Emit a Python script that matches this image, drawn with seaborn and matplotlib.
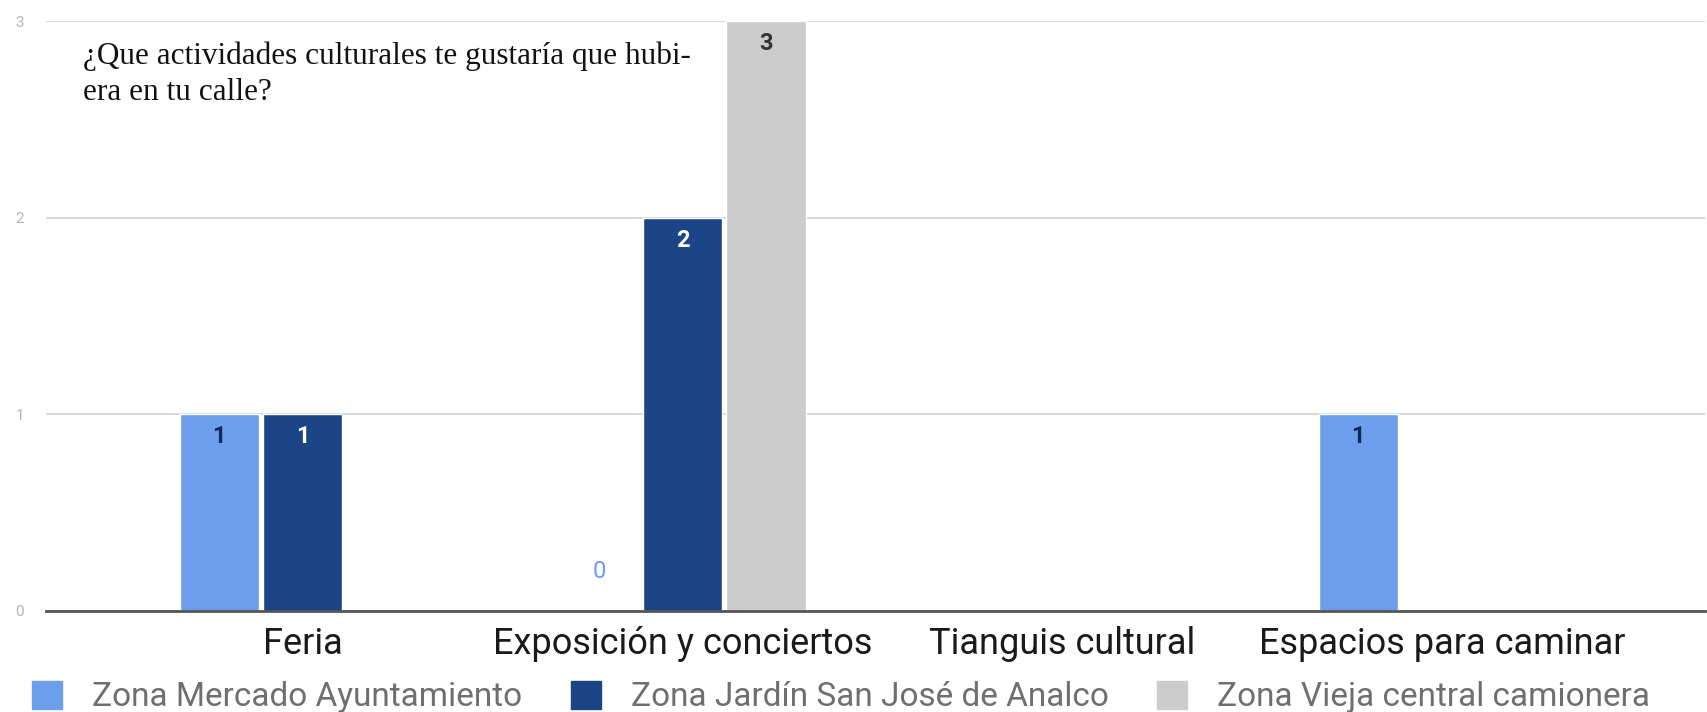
import matplotlib
matplotlib.use("Agg")
import matplotlib.pyplot as plt
import numpy as np
import pandas as pd
import seaborn as sns

# data (NaN = no bar drawn, 0 = bar with a "0" label)
categories = ["Feria", "Exposición y conciertos", "Tianguis cultural", "Espacios para caminar"]
zones = ["Zona Mercado Ayuntamiento", "Zona Jardín San José de Analco", "Zona Vieja central camionera"]
mercado = [1, 0, np.nan, 1]
jardin = [1, 2, np.nan, np.nan]
vieja = [np.nan, 3, np.nan, np.nan]
yticks = [0, 1, 2, 3]
title = "¿Que actividades culturales te gustaría que hubi-\nera en tu calle?"

colors = ["#6d9eeb", "#1c4587", "#cccccc"]
label_colors = ["#0b2a5c", "#ffffff", "#333333"]

df = pd.DataFrame({
    "categoria": categories * 3,
    "zona": [z for z in zones for _ in categories],
    "valor": mercado + jardin + vieja,
})

sns.set_theme(style="white")
plt.rcParams["font.family"] = ["Roboto", "DejaVu Sans"]

fig = plt.figure(figsize=(17.08, 7.12), dpi=100)
ax = fig.add_axes([0.027, 0.142, 0.971, 0.8285])

sns.barplot(data=df, x="categoria", y="valor", hue="zona", order=categories,
            hue_order=zones, palette=colors, width=0.66, gap=0.05,
            saturation=1, legend=False, ax=ax)

for i, cont in enumerate(ax.containers):
    for bar in cont:
        h = bar.get_height()
        if np.isnan(h):
            continue
        xc = bar.get_x() + bar.get_width() / 2
        if h > 0:
            ax.annotate(f"{int(h)}", (xc, h), xytext=(0, -8), textcoords="offset points",
                        ha="center", va="top", fontsize=17, fontweight="bold",
                        color=label_colors[i])
        else:
            ax.annotate(f"{int(h)}", (xc, 0.2), ha="center", va="center",
                        fontsize=17, color=colors[i])

ax.set_xlim(-0.676, 3.692)
ax.set_ylim(0, 3)
ax.set_yticks(yticks)
ax.tick_params(axis="y", labelsize=11, labelcolor="#b5b5b5", length=0, pad=16)
ax.tick_params(axis="x", labelsize=26, labelcolor="#1a1a1a", length=0, pad=11)
ax.grid(axis="y", color="#dadada", linewidth=1.5)
ax.set_axisbelow(True)
for s in ["top", "right", "left"]:
    ax.spines[s].set_visible(False)
ax.spines["bottom"].set_color("#555555")
ax.spines["bottom"].set_linewidth(2)
ax.set_xlabel("")
ax.set_ylabel("")

ax.text(0.022, 0.965, title, transform=ax.transAxes, ha="left", va="top",
        fontsize=22.5, family=["Liberation Serif", "DejaVu Serif"], color="#111111",
        linespacing=1.32)

handles = [plt.Rectangle((0, 0), 1, 1, color=c) for c in colors]
fig.legend(handles, zones, loc="lower center", bbox_to_anchor=(0.4925, -0.044), ncol=3,
           frameon=False, fontsize=24, handlelength=0.9, handleheight=0.9,
           columnspacing=1.45, handletextpad=0.9, labelcolor="#6f6f6f")

fig.savefig("out.png", dpi=100)
